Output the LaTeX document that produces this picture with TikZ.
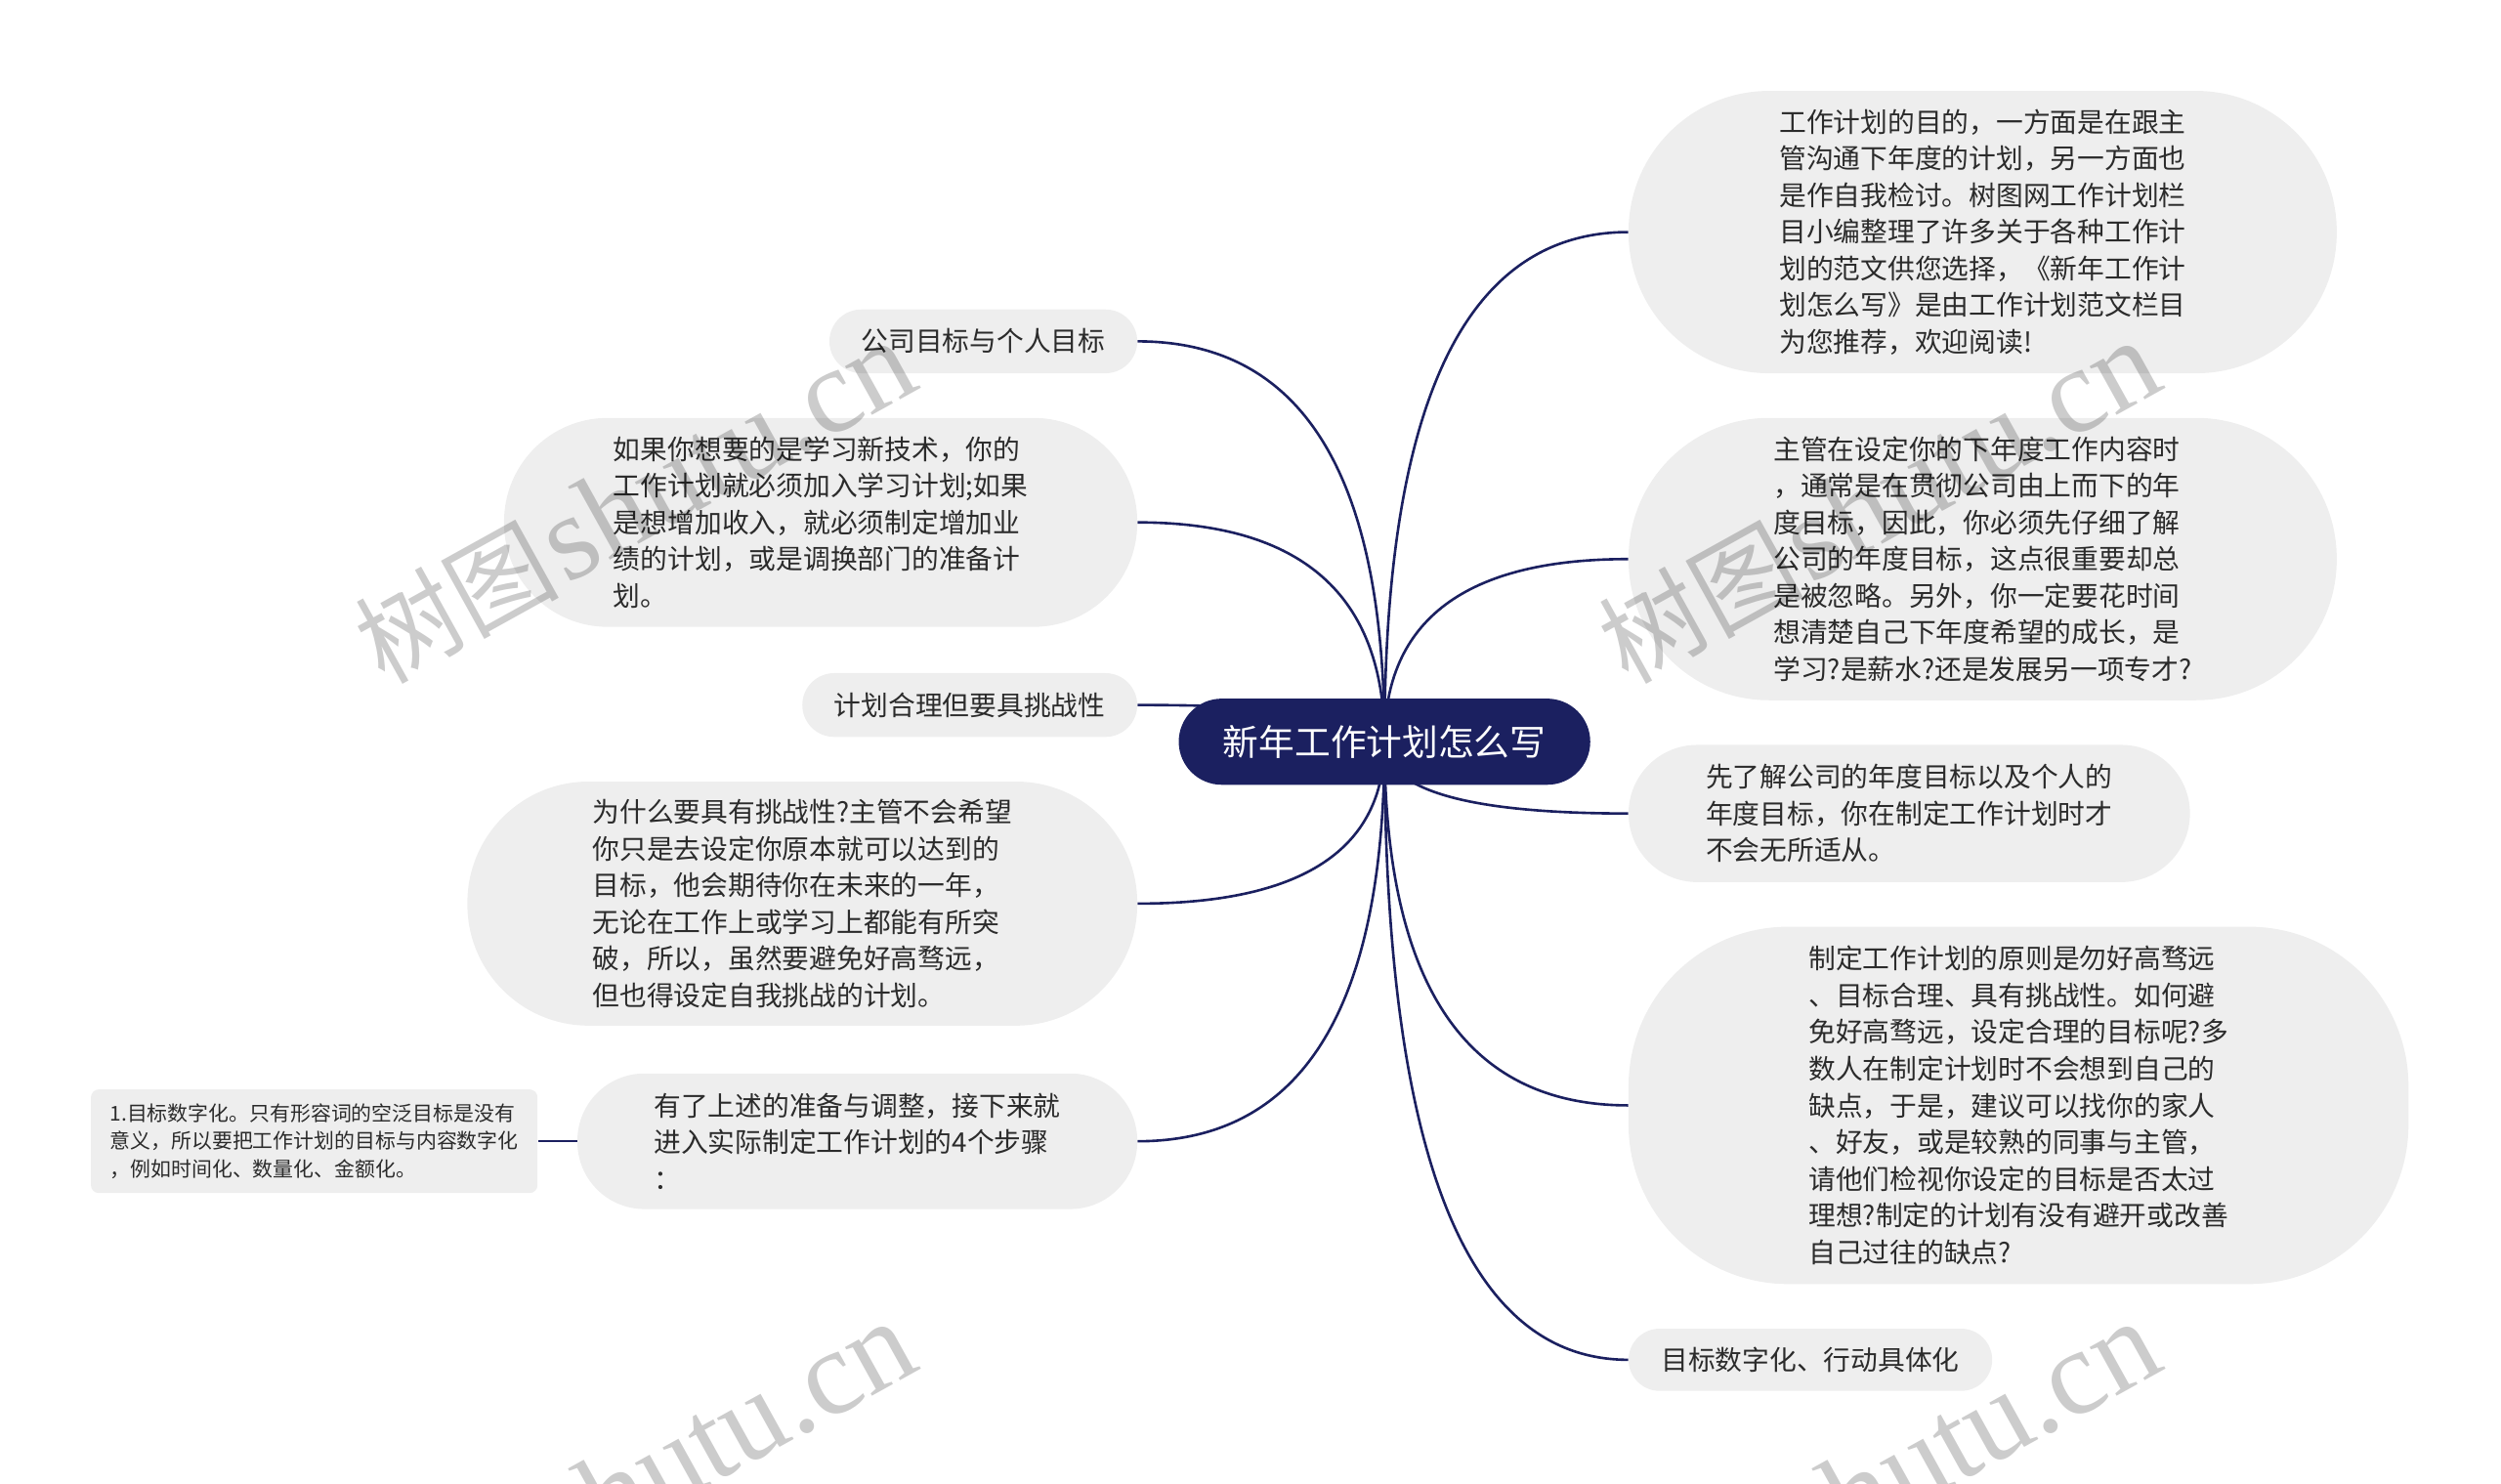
\documentclass[tikz,border=0pt]{standalone}
\usepackage{fontspec}
\setmainfont{Liberation Sans}
\newfontfamily\cjk{Noto Sans CJK SC}
\newfontfamily\wmserif{Liberation Serif}
\usetikzlibrary{backgrounds,calc}
\definecolor{navy}{HTML}{1B2060}
\definecolor{pillgray}{HTML}{EEEEEE}
\definecolor{txt}{HTML}{2B2B2B}
\tikzset{
  pill/.style={draw=none, fill=pillgray, text=txt, align=left, inner sep=0pt,
    font=\cjk\fontsize{17}{23}\selectfont},
  smallbox/.style={draw=none, fill=pillgray, text=txt, align=left, inner sep=0pt,
    rounded corners=5pt, font=\cjk\fontsize{12.8}{17.5}\selectfont},
  rootbox/.style={draw=none, fill=navy, text=white, inner sep=0pt,
    rounded corners=27pt, font=\cjk\fontsize{22.5}{27}\selectfont},
  conn/.style={draw=navy, line width=1.6pt},
  wmark/.style={text=black, opacity=0.2, inner sep=0pt}
}
\begin{document}
\begin{tikzpicture}[x=1pt,y=-1pt]
\useasboundingbox (0,0) rectangle (1568,930);

% root
\node[rootbox, minimum width=258pt, minimum height=54pt] (c) at (868,465) {新年工作计划怎么写};

% right side
\node[pill, rounded corners=88pt, minimum width=444pt, minimum height=177pt] (r1) at (1243,145.5) {工作计划的目的，一方面是在跟主\\管沟通下年度的计划，另一方面也\\是作自我检讨。树图网工作计划栏\\目小编整理了许多关于各种工作计\\划的范文供您选择，《新年工作计\\划怎么写》是由工作计划范文栏目\\为您推荐，欢迎阅读!};
\node[pill, rounded corners=88pt, minimum width=444pt, minimum height=177pt] (r2) at (1243,350.5) {主管在设定你的下年度工作内容时\\，通常是在贯彻公司由上而下的年\\度目标，因此，你必须先仔细了解\\公司的年度目标，这点很重要却总\\是被忽略。另外，你一定要花时间\\想清楚自己下年度希望的成长，是\\学习?是薪水?还是发展另一项专才?};
\node[pill, rounded corners=43pt, minimum width=352pt, minimum height=86pt] (r3) at (1197,510) {先了解公司的年度目标以及个人的\\年度目标，你在制定工作计划时才\\不会无所适从。};
\node[pill, rounded corners=100pt, minimum width=489pt, minimum height=224pt] (r4) at (1265.5,693) {制定工作计划的原则是勿好高骛远\\、目标合理、具有挑战性。如何避\\免好高骛远，设定合理的目标呢?多\\数人在制定计划时不会想到自己的\\缺点，于是，建议可以找你的家人\\、好友，或是较熟的同事与主管，\\请他们检视你设定的目标是否太过\\理想?制定的计划有没有避开或改善\\自己过往的缺点?};
\node[pill, rounded corners=19.5pt, minimum width=228pt, minimum height=39pt] (r5) at (1135,852.5) {目标数字化、行动具体化};

% left side
\node[pill, rounded corners=20pt, minimum width=193pt, minimum height=40pt] (l1) at (616.5,214) {公司目标与个人目标};
\node[pill, rounded corners=65pt, minimum width=397pt, minimum height=131pt] (l2) at (514.5,327.5) {如果你想要的是学习新技术，你的\\工作计划就必须加入学习计划;如果\\是想增加收入，就必须制定增加业\\绩的计划，或是调换部门的准备计\\划。};
\node[pill, rounded corners=20pt, minimum width=210pt, minimum height=40pt] (l3) at (608,442) {计划合理但要具挑战性};
\node[pill, rounded corners=76pt, minimum width=420pt, minimum height=153pt] (l4) at (503,566.5) {为什么要具有挑战性?主管不会希望\\你只是去设定你原本就可以达到的\\目标，他会期待你在未来的一年，\\无论在工作上或学习上都能有所突\\破，所以，虽然要避免好高骛远，\\但也得设定自我挑战的计划。};
\node[pill, rounded corners=42pt, minimum width=351pt, minimum height=85pt] (l5) at (537.5,715.5) {有了上述的准备与调整，接下来就\\进入实际制定工作计划的4个步骤\\：};
\node[smallbox, minimum width=280pt, minimum height=65pt] (l5c) at (197,715.5) {1.目标数字化。只有形容词的空泛目标是没有\\意义，所以要把工作计划的目标与内容数字化\\，例如时间化、数量化、金额化。};

% connectors (quadratic curves written as cubic)
\begin{pgfonlayer}{background}
\foreach \n in {r1,r2,r3,r4,r5}{
  \draw[conn] (c.center) .. controls ($(c.center)!0.667!(c.center |- \n.west)$)
     and ($(\n.west)!0.667!(c.center |- \n.west)$) .. (\n.west);
}
\foreach \n in {l1,l2,l3,l4,l5}{
  \draw[conn] (c.center) .. controls ($(c.center)!0.667!(c.center |- \n.east)$)
     and ($(\n.east)!0.667!(c.center |- \n.east)$) .. (\n.east);
}
\draw[conn] (l5.west) -- (l5c.east);
\end{pgfonlayer}

% watermarks
\begin{scope}
\clip (0,0) rectangle (1568,930);
\foreach \p/\q in {398/315, 1178/315, 398/930, 1178/930}{
  \node[wmark, rotate=29] at (\p,\q) {{\cjk\fontsize{64}{64}\selectfont 树图} {\wmserif\fontsize{76}{76}\selectfont shutu.cn}};
}
\end{scope}
\end{tikzpicture}
\end{document}
